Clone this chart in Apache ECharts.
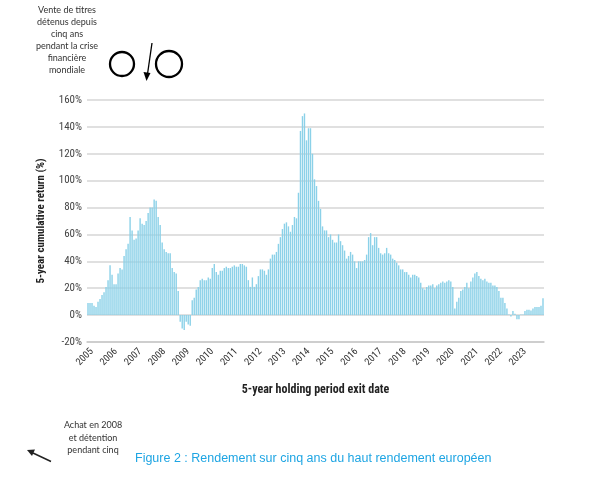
<!DOCTYPE html>
<html>
<head>
<meta charset="utf-8">
<script src="https://cdn.jsdelivr.net/npm/echarts@6/dist/echarts.min.js"></script>
<style>
  html, body { margin: 0; padding: 0; background: #fff; }
  #chart { width: 594px; height: 480px; }
</style>
</head>
<body>
<div id="chart"></div>
<script>
// first month shown, then one bar per month
const startYear = 2004;
const startMonth = 11;

// 5-year cumulative return (%), monthly, Nov 2004 -> Oct 2023
const returns = [
  9, 9, 9, 7, 6, 10, 12, 15, 17, 21,
  26, 37, 30, 23, 23, 31, 35, 34, 44, 49,
  53, 73, 63, 56, 57, 63, 72, 68, 67, 70,
  76, 80, 80, 86, 85, 73, 67, 54, 49, 47,
  46, 46, 35, 32, 31, 18, -5, -10, -11, -5,
  -7, -8, 11, 13, 19, 21, 26, 27, 26, 26,
  28, 27, 35, 38, 32, 30, 33, 33, 35, 36,
  35, 35, 36, 37, 36, 36, 38, 38, 37, 36,
  26, 21, 28, 21, 23, 29, 34, 34, 33, 30,
  34, 42, 45, 45, 47, 53, 58, 64, 68, 69,
  66, 62, 67, 73, 72, 91, 137, 148, 150, 130,
  139, 139, 120, 101, 96, 85, 79, 66, 63, 63,
  58, 60, 56, 54, 54, 60, 55, 52, 48, 42,
  44, 47, 45, 40, 35, 40, 40, 40, 41, 45,
  58, 61, 52, 58, 58, 50, 46, 45, 46, 50,
  46, 45, 42, 41, 39, 37, 34, 34, 32, 32,
  30, 28, 30, 30, 29, 28, 24, 20, 19, 21,
  22, 22, 23, 20, 22, 23, 24, 25, 24, 25,
  26, 25, 21, 5, 10, 13, 18, 19, 21, 24,
  20, 25, 28, 31, 32, 29, 27, 26, 27, 25,
  24, 24, 22, 22, 21, 18, 13, 13, 9, 5,
  0.5, -1, 3, 1, -3, -3, 0.5, 0.5, 3, 4,
  4, 3.5, 5, 6, 6, 6, 7, 12.5
];

// month categories, e.g. "2004-11"
const months = [];
for (let i = 0; i < returns.length; i++) {
  const m = startMonth - 1 + i;
  const y = startYear + Math.floor(m / 12);
  months.push(y + '-' + String((m % 12) + 1).padStart(2, '0'));
}

const yMin = -20;
const yMax = 160;
const yStep = 20;

const narrow = '"Liberation Sans Narrow", "Arial Narrow", "Roboto Condensed", sans-serif';
const noteFont = '9px Lato, "Open Sans", sans-serif';
const isJanuary = (idx, val) => val.endsWith('-01');

const chart = echarts.init(document.getElementById('chart'), null, { renderer: 'canvas' });

chart.setOption({
  animation: false,
  grid: { left: 87, right: 50, top: 100, bottom: 138 },
  xAxis: {
    type: 'category',
    data: months,
    name: '5-year holding period exit date',
    nameLocation: 'middle',
    nameGap: 42,
    nameTextStyle: { fontFamily: narrow, fontWeight: 'bold', fontSize: 12, color: '#222' },
    axisLine: { onZero: false, lineStyle: { color: '#c8c8c8', width: 1.5 } },
    axisTick: { interval: isJanuary, alignWithLabel: true, length: 4, lineStyle: { color: '#c8c8c8' } },
    axisLabel: {
      interval: isJanuary,
      formatter: (v) => v.slice(0, 4),
      rotate: 45,
      fontFamily: narrow,
      fontSize: 10,
      color: '#333',
      margin: 8
    },
    splitLine: { show: false }
  },
  yAxis: {
    type: 'value',
    min: yMin,
    max: yMax,
    interval: yStep,
    name: '5-year cumulative return (%)',
    nameLocation: 'middle',
    nameGap: 40,
    nameTextStyle: { fontFamily: narrow, fontWeight: 'bold', fontSize: 11, color: '#222' },
    axisLine: { show: false },
    axisTick: { show: false },
    axisLabel: { formatter: '{value}%', fontFamily: narrow, fontSize: 11, color: '#444', margin: 5 },
    splitLine: { lineStyle: { color: '#d6d6d6', width: 1.5 } }
  },
  series: [{
    type: 'bar',
    data: returns,
    barCategoryGap: '30%',
    itemStyle: { color: '#8bd1e8' }
  }],
  graphic: [
    {
      type: 'text',
      x: 67, y: 4,
      style: {
        text: 'Vente de titres\ndétenus depuis\ncinq ans\npendant la crise\nfinancière\nmondiale',
        align: 'center',
        font: noteFont,
        lineHeight: 12,
        fill: '#333'
      }
    },
    { type: 'circle', shape: { cx: 122, cy: 64, r: 12 }, style: { fill: 'none', stroke: '#000', lineWidth: 2.3 } },
    { type: 'circle', shape: { cx: 169, cy: 64, r: 13 }, style: { fill: 'none', stroke: '#000', lineWidth: 2.3 } },
    { type: 'line', shape: { x1: 152, y1: 43, x2: 147.5, y2: 74 }, style: { stroke: '#000', lineWidth: 1.3 } },
    { type: 'polygon', shape: { points: [[146.5, 81], [143.5, 72], [150.5, 73]] }, style: { fill: '#000' } },
    {
      type: 'text',
      x: 93, y: 419,
      style: {
        text: 'Achat en 2008\net détention\npendant cinq',
        align: 'center',
        font: noteFont,
        lineHeight: 12.5,
        fill: '#333'
      }
    },
    { type: 'line', shape: { x1: 51, y1: 461.5, x2: 33, y2: 453 }, style: { stroke: '#222', lineWidth: 1.5 } },
    { type: 'polygon', shape: { points: [[27, 450], [35, 449.5], [32, 456]] }, style: { fill: '#222' } },
    {
      type: 'text',
      x: 135, y: 452,
      style: {
        text: 'Figure 2 : Rendement sur cinq ans du haut rendement européen',
        font: '12.5px "Liberation Sans", Arial, sans-serif',
        fill: '#1ea5e3'
      }
    }
  ]
});
</script>
</body>
</html>
